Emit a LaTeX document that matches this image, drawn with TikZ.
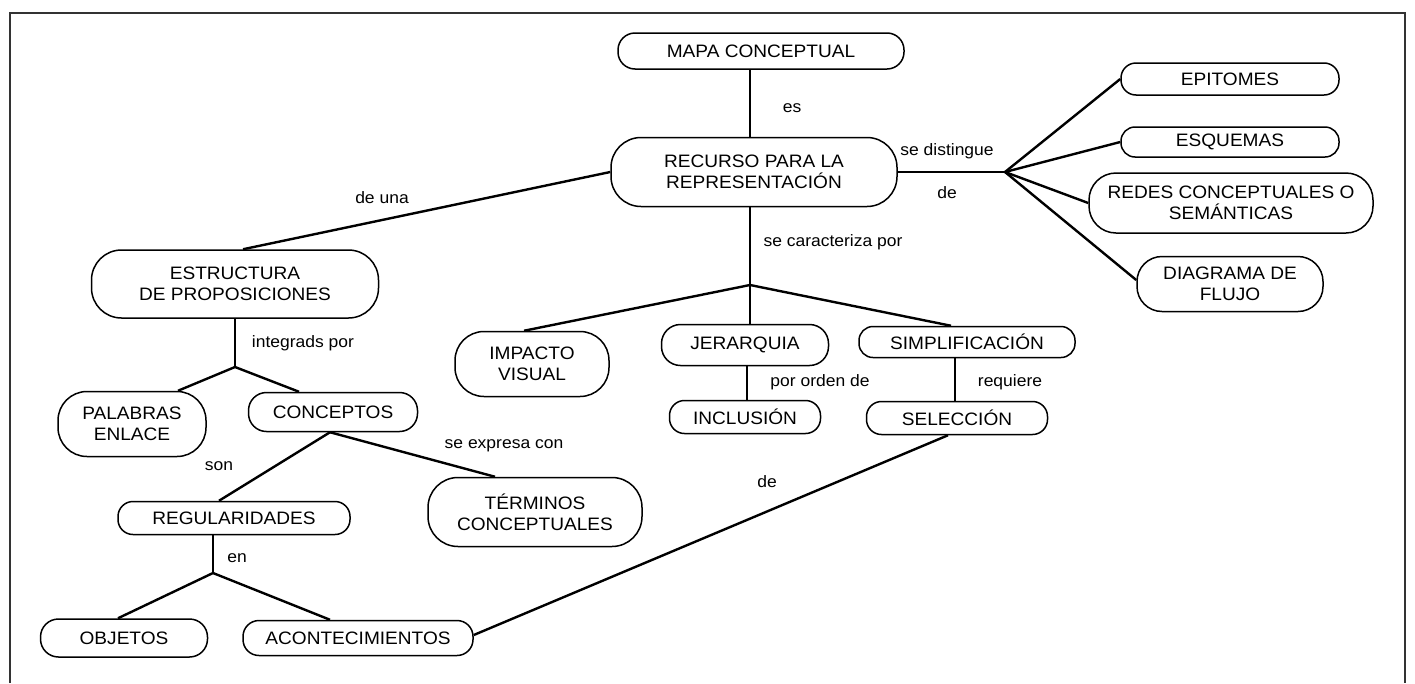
\documentclass[tikz,border=0pt]{standalone}
\usepackage{fontspec}
\setmainfont[FakeStretch=1.06]{Liberation Sans}
\usetikzlibrary{calc}
\tikzset{
  cbox/.style={draw, line width=1.5pt, inner sep=0pt, align=center,
    font=\fontsize{18}{21}\selectfont, rounded corners=15pt},
  lbl/.style={inner sep=0pt, font=\fontsize{16.5}{19}\selectfont},
  conn/.style={line width=2.4pt},
  frame/.style={line width=1.6pt, draw=black!80}
}
\begin{document}
\begin{tikzpicture}[x=1pt, y=-1pt]
\useasboundingbox (0,0) rectangle (1415,683);
\draw[frame] (10,683) -- (10,13) -- (1405,13) -- (1405,683);

% nodes
\node[cbox, minimum width=286pt, minimum height=36pt, rounded corners=17pt] (mapa) at (761,51) {MAPA CONCEPTUAL};
\node[cbox, minimum width=286pt, minimum height=69pt, rounded corners=30pt] (recurso) at (754,172) {RECURSO PARA LA\\REPRESENTACIÓN};
\node[cbox, minimum width=287pt, minimum height=68pt, rounded corners=30pt] (estructura) at (235,284) {ESTRUCTURA\\DE PROPOSICIONES};
\node[cbox, minimum width=218pt, minimum height=32pt] (epitomes) at (1230,79) {EPITOMES};
\node[cbox, minimum width=218pt, minimum height=30pt, rounded corners=14pt] (esquemas) at (1230,142) {ESQUEMAS};
\node[cbox, minimum width=284pt, minimum height=60pt, rounded corners=27pt] (redes) at (1231,203) {REDES CONCEPTUALES O\\SEMÁNTICAS};
\node[cbox, minimum width=186pt, minimum height=55pt, rounded corners=25pt] (diagrama) at (1230,284) {DIAGRAMA DE\\FLUJO};
\node[cbox, minimum width=154pt, minimum height=65pt, rounded corners=29pt] (impacto) at (532,364) {IMPACTO\\VISUAL};
\node[cbox, minimum width=167pt, minimum height=41pt, rounded corners=19pt] (jerarquia) at (745,345) {JERARQUIA};
\node[cbox, minimum width=216pt, minimum height=31pt, rounded corners=14pt] (simplificacion) at (967,342) {SIMPLIFICACIÓN};
\node[cbox, minimum width=151pt, minimum height=33pt] (inclusion) at (745,417) {INCLUSIÓN};
\node[cbox, minimum width=181pt, minimum height=33pt] (seleccion) at (957,418) {SELECCIÓN};
\node[cbox, minimum width=148pt, minimum height=65pt, rounded corners=29pt] (palabras) at (132,424) {PALABRAS\\ENLACE};
\node[cbox, minimum width=169pt, minimum height=39pt, rounded corners=18pt] (conceptos) at (333,412) {CONCEPTOS};
\node[cbox, minimum width=232pt, minimum height=33pt] (regularidades) at (234,518) {REGULARIDADES};
\node[cbox, minimum width=214pt, minimum height=69pt, rounded corners=30pt] (terminos) at (535,512) {TÉRMINOS\\CONCEPTUALES};
\node[cbox, minimum width=167pt, minimum height=38pt, rounded corners=18pt] (objetos) at (124,638) {OBJETOS};
\node[cbox, minimum width=230pt, minimum height=35pt, rounded corners=16pt] (acontecimientos) at (358,638) {ACONTECIMIENTOS};

% branch points
\coordinate (hub) at (1005,172);
\coordinate (br1) at (750,285);
\coordinate (br2) at (235,367);
\coordinate (br3) at (213,573);

% connectors
\draw[conn] ([xshift=-11pt]mapa.south) -- ([xshift=-4pt]recurso.north);
\draw[conn] (recurso.west) -- ([xshift=8pt]estructura.north);
\draw[conn] (recurso.east) -- (hub);
\draw[conn] (hub) -- (epitomes.west);
\draw[conn] (hub) -- (esquemas.west);
\draw[conn] (hub) -- (redes.west);
\draw[conn] (hub) -- ([yshift=4pt]diagrama.west);
\draw[conn] ([xshift=-4pt]recurso.south) -- (br1);
\draw[conn] (br1) -- ([xshift=-8pt]impacto.north);
\draw[conn] (br1) -- ([xshift=5pt]jerarquia.north);
\draw[conn] (br1) -- ([xshift=-16pt]simplificacion.north);
\draw[conn] ([xshift=2pt]jerarquia.south) -- ([xshift=2pt]inclusion.north);
\draw[conn] ([xshift=-12pt]simplificacion.south) -- ([xshift=-2pt]seleccion.north);
\draw[conn] ([xshift=-9pt]seleccion.south) -- ([yshift=3pt]acontecimientos.east);
\draw[conn] (estructura.south) -- (br2);
\draw[conn] (br2) -- ([xshift=46pt]palabras.north);
\draw[conn] (br2) -- ([xshift=-34pt]conceptos.north);
\draw[conn] ([xshift=-3pt]conceptos.south) -- ([xshift=-15pt]regularidades.north);
\draw[conn] ([xshift=-3pt]conceptos.south) -- ([xshift=-40pt]terminos.north);
\draw[conn] ([xshift=-21pt]regularidades.south) -- (br3);
\draw[conn] (br3) -- ([xshift=-6pt]objetos.north);
\draw[conn] (br3) -- ([xshift=-28pt]acontecimientos.north);

% labels
\node[lbl] (l-es) at (792,108) {es};
\node[lbl] (l-deuna) at (382,198) {de una};
\node[lbl] (l-sedist) at (947,151) {se distingue};
\node[lbl] (l-de1) at (947,193) {de};
\node[lbl] (l-secar) at (833,242) {se caracteriza por};
\node[lbl] (l-orden) at (820,382) {por orden de};
\node[lbl] (l-req) at (1010,382) {requiere};
\node[lbl] (l-de2) at (767,482) {de};
\node[lbl] (l-integ) at (303,343) {integrads por};
\node[lbl] (l-son) at (219,466) {son};
\node[lbl] (l-expr) at (504,446) {se expresa con};
\node[lbl] (l-en) at (237,558) {en};
\end{tikzpicture}
\end{document}
